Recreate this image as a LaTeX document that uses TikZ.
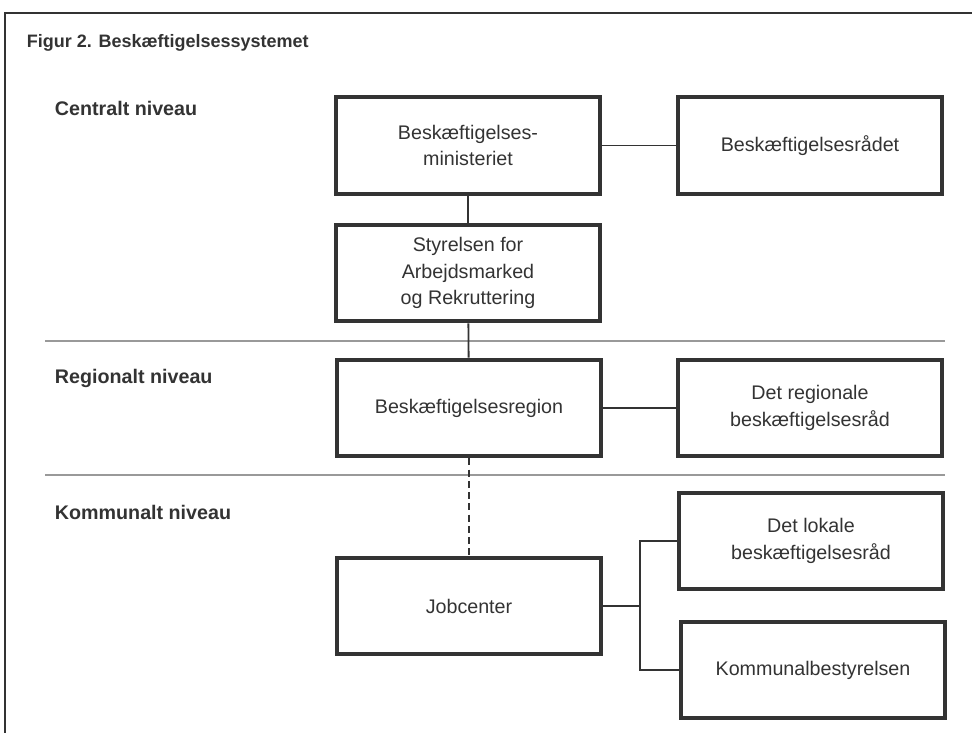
\documentclass[tikz,border=0pt]{standalone}
\usepackage{fontspec}
\setmainfont{Liberation Sans}
\definecolor{ink}{HTML}{333333}
\begin{document}
\begin{tikzpicture}[x=.025cm, y=-.025cm, ink,
	box/.style={draw, line width=2.8pt, minimum width=6.6cm, minimum height=2.42cm, align=center, inner sep=0pt, font=\fontsize{14}{19}\selectfont},
	lvl/.style={anchor=west, font=\fontsize{14}{17}\selectfont\bfseries},
	link/.style={line width=1.3pt}]

\useasboundingbox (0,0) rectangle (972,733);
\draw[line width=1.3pt] (972,13) -- (5,13) -- (5,733);

\node[anchor=west, font=\fontsize{12.8}{15}\selectfont\bfseries] (title) at (22,43) {Figur 2. Beskæftigelsessystemet};

% levels
\node[lvl] (central) at (50,108) {Centralt niveau};
\node[lvl] (regional) at (50,378) {Regionalt niveau};
\node[lvl] (local) at (50,512) {Kommunalt niveau};
\draw[black!40, line width=1.2pt] (45,341) -- (945,341);
\draw[black!40, line width=1.2pt] (45,475) -- (945,475);

% boxes
\node[box] (min) at (468,145.5) {Beskæftigelses-\\ministeriet};
\node[box] (raad) at (810,145.5) {Beskæftigelsesrådet};
\node[box] (styr) at (468,273) {Styrelsen for\\Arbejdsmarked\\og Rekruttering};
\node[box] (region) at (469,408) {Beskæftigelsesregion};
\node[box] (regraad) at (810,408) {Det regionale\\beskæftigelsesråd};
\node[box] (job) at (469,606) {Jobcenter};
\node[box] (lokal) at (811,541) {Det lokale\\beskæftigelsesråd};
\node[box] (kommb) at (813,670) {Kommunalbestyrelsen};

% links
\draw[link] (min) -- (raad);
\draw[link] (min) -- (styr);
\draw[link] (styr) -- (region);
\draw[link] (region) -- (regraad);
\draw[link, dash pattern=on 5pt off 3pt] (region) -- (job);
\coordinate (fork) at (640,606);
\draw[link] (job.east) -- (fork);
\draw[link] (lokal.west) -| (fork) |- (kommb.west);
\end{tikzpicture}
\end{document}
